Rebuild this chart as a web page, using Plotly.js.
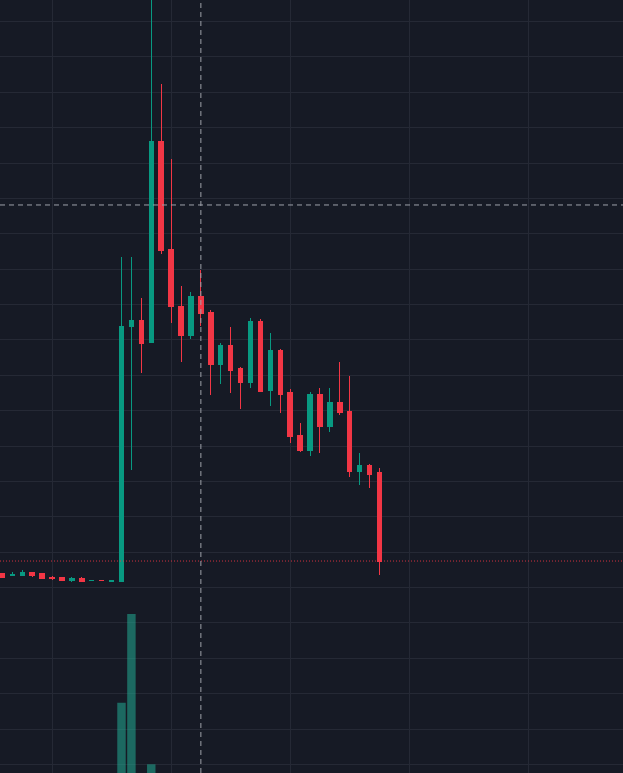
<!DOCTYPE html>
<html>
<head>
<meta charset="utf-8">
<script src="https://cdn.plot.ly/plotly-3.0.1.min.js"></script>
<style>
html,body{margin:0;padding:0;background:#161a25;}
#chart{width:623px;height:773px;}
#chart .boxlayer path{shape-rendering:crispEdges;}
</style>
</head>
<body>
<div id="chart"></div>
<script>
var times = [
  "2024-03-12 09:35","2024-03-12 09:40","2024-03-12 09:45","2024-03-12 09:50","2024-03-12 09:55",
  "2024-03-12 10:00","2024-03-12 10:05","2024-03-12 10:10","2024-03-12 10:15","2024-03-12 10:20",
  "2024-03-12 10:25","2024-03-12 10:30","2024-03-12 10:35","2024-03-12 10:40","2024-03-12 10:45",
  "2024-03-12 10:50","2024-03-12 10:55","2024-03-12 11:00","2024-03-12 11:05","2024-03-12 11:10",
  "2024-03-12 11:15","2024-03-12 11:20","2024-03-12 11:25","2024-03-12 11:30","2024-03-12 11:35",
  "2024-03-12 11:40","2024-03-12 11:45","2024-03-12 11:50","2024-03-12 11:55","2024-03-12 12:00",
  "2024-03-12 12:05","2024-03-12 12:10","2024-03-12 12:15","2024-03-12 12:20","2024-03-12 12:25",
  "2024-03-12 12:30","2024-03-12 12:35","2024-03-12 12:40","2024-03-12 12:45"
];
var openP  = [2.692,2.677,2.670,2.713,2.692,2.642,2.640,2.593,2.630,2.593,2.600,2.586,2.586,6.187,6.282,5.957,8.812,7.272,6.480,6.056,6.611,6.385,5.660,5.915,5.599,5.396,6.254,5.283,5.858,5.254,4.656,4.444,5.222,4.774,5.113,4.986,4.138,4.232,4.124];
var highP  = [2.699,2.720,2.748,2.720,2.699,2.663,2.642,2.645,2.645,2.604,2.604,2.607,7.177,7.177,6.593,11.400,9.618,8.554,6.763,6.674,6.989,6.423,5.961,6.187,5.622,6.306,6.296,6.103,5.872,5.311,4.822,5.268,5.317,5.321,5.693,5.491,4.398,4.247,4.186];
var lowP   = [2.642,2.670,2.670,2.649,2.621,2.607,2.586,2.578,2.578,2.590,2.589,2.578,2.586,4.162,5.533,5.957,7.215,6.244,5.693,6.014,6.197,5.222,5.377,5.254,5.028,5.325,5.268,5.066,4.972,4.548,4.420,4.364,4.398,4.703,4.939,4.067,3.950,3.911,2.677];
var closeP = [2.649,2.684,2.713,2.670,2.628,2.628,2.593,2.625,2.581,2.600,2.593,2.593,6.197,6.282,5.943,8.812,7.265,6.470,6.056,6.611,6.367,5.660,5.915,5.575,5.396,6.254,5.278,5.858,5.236,4.642,4.444,5.222,4.774,5.113,4.972,4.138,4.232,4.105,2.875];
var volumes = [9000,6000,12000,8000,10000,5000,7000,6000,8000,3000,2500,4000,220600,398000,62000,97400,71000,45000,30000,22000,26000,24000,15000,13000,11000,20000,23000,18000,14000,16000,12000,17000,14000,11000,9000,21000,8000,7000,35000];

var lastPrice = 2.875;
var crossTime = "2024-03-12 11:15";
var crossPrice = 7.908;

var upColor = "#089981", downColor = "#f23645";
var volColors = closeP.map(function(c, i){ return c >= openP[i] ? "rgba(34,171,148,0.55)" : "rgba(242,54,69,0.5)"; });

var candles = {
  type: "candlestick",
  x: times, open: openP, high: highP, low: lowP, close: closeP,
  increasing: {line: {color: upColor, width: 1}, fillcolor: upColor},
  decreasing: {line: {color: downColor, width: 1}, fillcolor: downColor},
  whiskerwidth: 0,
  hoverinfo: "skip",
  showlegend: false
};
var vol = {
  type: "bar",
  x: times, y: volumes, yaxis: "y2",
  width: 255000,
  marker: {color: volColors, line: {width: 0}},
  hoverinfo: "skip",
  showlegend: false
};

var layout = {
  width: 623, height: 773,
  margin: {l: 0, r: 0, t: 0, b: 0, pad: 0},
  paper_bgcolor: "#161a25",
  plot_bgcolor: "#161a25",
  showlegend: false,
  hovermode: false,
  boxgap: 0.36,
  xaxis: {
    type: "date",
    range: ["2024-03-12 09:33:47", "2024-03-12 14:47:42"],
    showticklabels: false, ticks: "",
    showgrid: true, gridcolor: "#252935", gridwidth: 1,
    dtick: 3600000, tick0: "2024-03-12 10:00",
    zeroline: false, showline: false,
    rangeslider: {visible: false},
    fixedrange: true
  },
  yaxis: {
    range: [-0.1216, 10.8056],
    showticklabels: false, ticks: "",
    showgrid: true, gridcolor: "#252935", gridwidth: 1,
    dtick: 0.5, tick0: 0,
    zeroline: false, showline: false,
    fixedrange: true
  },
  yaxis2: {
    overlaying: "y",
    range: [80000, 1626000],
    showticklabels: false, ticks: "",
    showgrid: false, zeroline: false, showline: false,
    fixedrange: true
  },
  shapes: [
    {type: "line", xref: "paper", x0: 0, x1: 1, yref: "y", y0: lastPrice, y1: lastPrice,
     line: {color: "rgba(242,54,69,0.85)", width: 1, dash: "1px,2px"}, layer: "above"},
    {type: "line", xref: "x", x0: crossTime, x1: crossTime, yref: "paper", y0: 0, y1: 1,
     line: {color: "#9ea1aa", width: 1, dash: "5px,4px"}, layer: "above"},
    {type: "line", xref: "paper", x0: 0, x1: 1, yref: "y", y0: crossPrice, y1: crossPrice,
     line: {color: "#9ea1aa", width: 1, dash: "5px,4px"}, layer: "above"}
  ]
};

Plotly.newPlot("chart", [vol, candles], layout, {displayModeBar: false, staticPlot: true});
</script>
</body>
</html>
